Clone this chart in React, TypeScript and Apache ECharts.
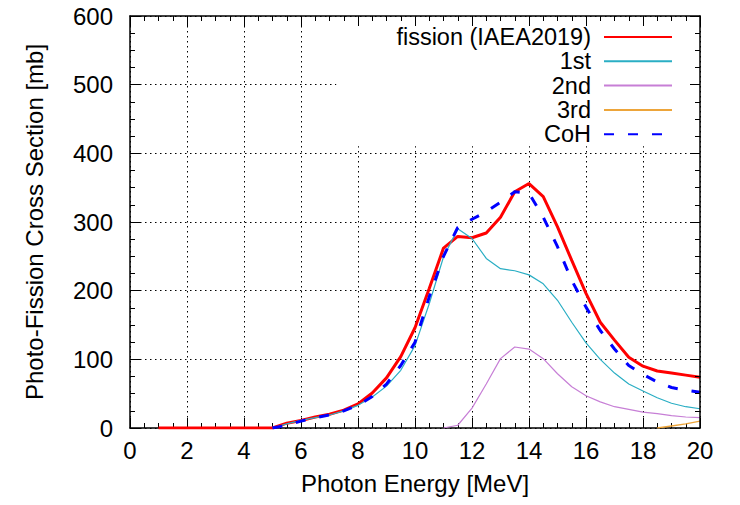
import React, { useEffect, useRef } from "react";
import * as echarts from "echarts";

const energy = [1, 1.5, 2, 2.5, 3, 3.5, 4, 4.5, 5, 5.5, 6, 6.5, 7, 7.5, 8, 8.5, 9, 9.5, 10, 10.5, 11, 11.5, 12, 12.5, 13, 13.5, 14, 14.5, 15, 15.5, 16, 16.5, 17, 17.5, 18, 18.5, 19, 19.5, 20];

const fission = [0, 0, 0, 0, 0, 0, 0, 0, 0, 7, 11, 16, 20, 26, 35, 51, 73, 104, 146, 203, 262, 279, 277, 284, 307, 344, 356, 337, 293, 244, 196, 154, 128, 103, 90, 83, 80, 77, 74];
const first = [null, null, null, null, null, null, null, null, 0, 6, 11, 15, 19, 25, 33, 45, 61, 84, 120, 181, 249, 290, 276, 247, 232, 229, 223, 210, 186, 154, 124, 100, 80, 64, 54, 44, 36, 31, 28];
const second = [null, null, null, null, null, null, null, null, null, null, null, null, null, null, null, null, null, null, null, null, 0, 4, 29, 64, 101, 118, 115, 101, 79, 60, 47, 38, 31, 27, 23, 21, 18, 16, 15];
const third = [null, null, null, null, null, null, null, null, null, null, null, null, null, null, null, null, null, null, null, null, null, null, null, null, null, null, null, null, null, null, null, null, null, null, null, 0, 3, 6, 10];
const coh = [null, null, null, null, null, null, null, null, 0, 4, 10, 15, 19, 25, 33, 46, 64, 91, 125, 191, 250, 292, 304, 315, 329, 344, 342, 307, 264, 215, 176, 142, 115, 91, 78, 67, 59, 55, 52];

const seriesNames = ["fission (IAEA2019)", "1st", "2nd", "3rd", "CoH"];

const FONT = "'Liberation Sans', Arial, Helvetica, sans-serif";
const FS = 24;

function pairs(vals: (number | null)[]) {
  const out: [number, number][] = [];
  energy.forEach((e, i) => {
    const v = vals[i];
    if (v !== null && v !== undefined) out.push([e, v]);
  });
  return out;
}

export default function App() {
  const ref = useRef<HTMLDivElement>(null);
  useEffect(() => {
    if (!ref.current) return;
    const chart = echarts.init(ref.current, undefined, { renderer: "svg" });
    const splitLine = { show: true, lineStyle: { color: "#000", width: 1, type: [1.5, 3.5] as any } };
    const axisLine = { show: true, onZero: false, lineStyle: { color: "#000", width: 1.5 } };
    const tickStyle = { color: "#000", width: 1 };
    const xBase = {
      type: "value" as const,
      min: 0,
      max: 20,
      interval: 2,
      axisLine,
      axisTick: { show: true, inside: true, length: 10, lineStyle: tickStyle },
      minorTick: { show: true, splitNumber: 4, length: 5, lineStyle: tickStyle },
    };
    const yBase = {
      type: "value" as const,
      min: 0,
      max: 600,
      interval: 100,
      axisLine,
      axisTick: { show: true, inside: true, length: 10, lineStyle: tickStyle },
      minorTick: { show: true, splitNumber: 4, length: 5, lineStyle: tickStyle },
    };
    chart.setOption({
      animation: false,
      backgroundColor: "#fff",
      textStyle: { fontFamily: FONT },
      grid: { left: 130, right: 40, top: 16, bottom: 77, containLabel: false },
      xAxis: [
        {
          ...xBase,
          position: "bottom",
          name: "Photon Energy [MeV]",
          nameLocation: "middle",
          nameGap: 43,
          nameTextStyle: { fontSize: FS, color: "#000", fontFamily: FONT },
          axisLabel: { fontSize: FS, color: "#000", margin: 10, fontFamily: FONT },
          splitLine,
          z: 0,
        },
        {
          ...xBase,
          position: "top",
          axisLabel: { show: false },
          splitLine: { show: false },
          z: 6,
        },
      ],
      yAxis: [
        {
          ...yBase,
          position: "left",
          name: "Photo-Fission Cross Section [mb]",
          nameLocation: "middle",
          nameGap: 84,
          nameTextStyle: { fontSize: FS, color: "#000", fontFamily: FONT },
          axisLabel: { fontSize: FS, color: "#000", margin: 17, fontFamily: FONT },
          splitLine,
          z: 0,
        },
        {
          ...yBase,
          position: "right",
          axisLabel: { show: false },
          splitLine: { show: false },
          z: 6,
        },
      ],
      legend: {
        show: true,
        orient: "vertical",
        align: "right",
        right: 48,
        top: 17,
        padding: [8, 19, 0, 60],
        itemGap: 0.3,
        itemWidth: 68,
        itemHeight: 14,
        backgroundColor: "#fff",
        z: 4,
        itemStyle: { color: "rgba(0,0,0,0)", borderWidth: 0, opacity: 0 },
        textStyle: { fontSize: 23.5, color: "#000", fontFamily: FONT, lineHeight: 23.5, padding: [0, 8, 0, 0] },
        data: seriesNames,
      },
      series: [
        {
          name: seriesNames[0],
          type: "line",
          data: pairs(fission),
          symbol: "none",
          lineStyle: { color: "#ff0000", width: 3 },
          itemStyle: { color: "#ff0000" },
          z: 2,
        },
        {
          name: seriesNames[1],
          type: "line",
          data: pairs(first),
          symbol: "none",
          lineStyle: { color: "#2aaec4", width: 1.2 },
          itemStyle: { color: "#2aaec4" },
          z: 3,
        },
        {
          name: seriesNames[2],
          type: "line",
          data: pairs(second),
          symbol: "none",
          lineStyle: { color: "#c77fd6", width: 1.2 },
          itemStyle: { color: "#c77fd6" },
          z: 3,
        },
        {
          name: seriesNames[3],
          type: "line",
          data: pairs(third),
          symbol: "none",
          lineStyle: { color: "#eda53a", width: 1.5 },
          itemStyle: { color: "#eda53a" },
          z: 3,
        },
        {
          name: seriesNames[4],
          type: "line",
          data: pairs(coh),
          symbol: "none",
          lineStyle: { color: "#0000ff", width: 3, type: [10, 14] as any },
          itemStyle: { color: "#0000ff" },
          z: 3,
        },
      ],
    });
    return () => chart.dispose();
  }, []);
  return (
    <div
      ref={ref}
      style={{ position: "fixed", left: 0, top: 0, width: 740, height: 505, background: "#fff" }}
    />
  );
}
